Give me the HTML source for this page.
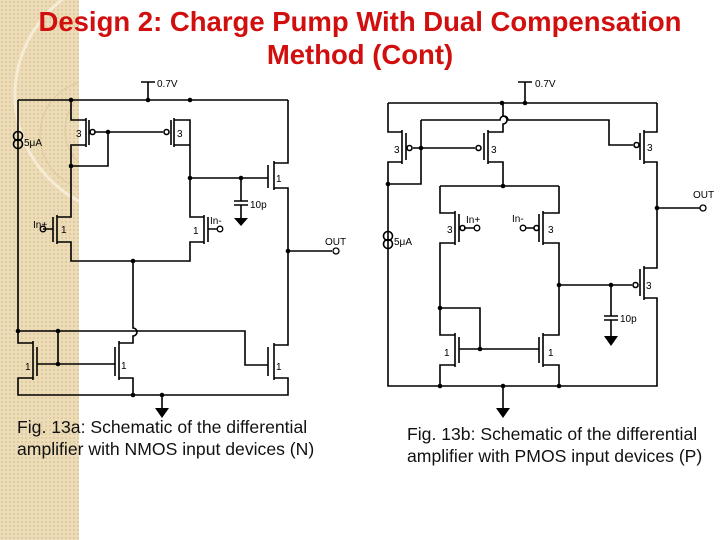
<!DOCTYPE html>
<html><head><meta charset="utf-8"><style>
html,body{margin:0;padding:0;background:#fff}
body{width:720px;height:540px;position:relative;overflow:hidden;font-family:"Liberation Sans",Arial,sans-serif}
.strip{position:absolute;left:0;top:0;width:79px;height:540px;background:#ecdcb8;
background-image:radial-gradient(#e0cba0 1px,transparent 1.2px);background-size:4px 4px}
.t{position:absolute;left:0;width:720px;text-align:center;color:#d10f0f;font-weight:bold;font-size:27.5px;line-height:33px;white-space:nowrap}
.cap{position:absolute;font-size:17.6px;line-height:22px;color:#111;white-space:nowrap}
svg{position:absolute;left:0;top:0}
</style></head><body>
<div class="strip"></div>
<svg width="720" height="540" style="z-index:0">
<circle cx="135" cy="95" r="120" fill="none" stroke="#f6ecd6" stroke-width="3"/>
<circle cx="95" cy="135" r="55" fill="none" stroke="#ddc9a0" stroke-width="1"/>
<circle cx="110" cy="130" r="45" fill="none" stroke="#ddc9a0" stroke-width="1"/>
<rect x="79" y="0" width="641" height="540" fill="#fff"/>
</svg>
<div class="t" style="top:5px">Design 2: Charge Pump With Dual Compensation</div>
<div class="t" style="top:38px">Method (Cont)</div>
<svg width="720" height="540" font-family="Liberation Sans, Arial, sans-serif" font-size="10">
<g stroke="#000" stroke-width="1.6" fill="none">
<path d="M141,82H155M148,82V100M18,100H288"/>
<path d="M18,100V331M71,100V120H86M86,145H71V217H57M57,242H71V261H190V242H204M204,217H190V120H174M174,145H190"/>
<path d="M86,118V147M89,120V145M174,118V147M171,120V145M95,132H163M108,132V166H71"/>
<path d="M288,100V163H274M274,188H288V345H274M274,378H288V395H18V378H33M33,343H18V331"/>
<path d="M274,161V190M268,165V188M190,178H268M241,178V201M234,201H248M234,205H248M241,205V218"/>
<path d="M57,215V244M53,217V242M43,229H53M204,215V244M208,217V242M208,229H217"/>
<path d="M133,261V328A4,4 0 0 1 133,336V343H119M119,378H133V395"/>
<path d="M18,331H245V365H268M274,343V380M268,347V376M119,341V380M115,347V376M33,341V380M37,347V376M37,364H115M58,331V364"/>
<path d="M288,251H332M162,395V408"/>
<circle cx="18" cy="136" r="4.5"/><circle cx="18" cy="144" r="4.5"/>
<circle cx="92.5" cy="132" r="2.5"/><circle cx="166.5" cy="132" r="2.5"/>
<circle cx="43" cy="229" r="2.8" stroke-width="1.3"/><circle cx="220" cy="229" r="2.8" stroke-width="1.3"/>
<circle cx="336" cy="251" r="3" stroke-width="1.3"/>
<path d="M518,82H532M525,82V103M388,103H657M421,120H500A4,4 0 0 1 508,120H609V145H633"/>
<path d="M388,103V132H402M402,162H388V386H657V298H644M644,268H657V162H644M644,132H657V103"/>
<path d="M503,103V116A4,4 0 0 1 503,124V132H488M488,162H503V186M440,186H559"/>
<path d="M402,130V164M406,133V160M488,130V164M484,133V160M644,130V164M640,133V160M644,266V300M640,269V296"/>
<path d="M413,148H475M421,120V184H388"/>
<path d="M440,186V213H455M455,243H440V335H455M455,365H440V386M559,186V213H543M543,243H559V335H543M543,365H559V386"/>
<path d="M455,211V245M459,214V242M543,211V245M539,214V242M464,228H474M534,228H526"/>
<path d="M455,333V367M459,337V363M543,333V367M539,337V363M459,349H539M440,308H480V349"/>
<path d="M559,285H632M611,285V316M604,316H618M604,320H618M611,320V336M657,208H700M503,386V408"/>
<circle cx="388" cy="236" r="4.5"/><circle cx="388" cy="244" r="4.5"/>
<circle cx="409.5" cy="148" r="2.5"/><circle cx="478.5" cy="148" r="2.5"/><circle cx="636.5" cy="145" r="2.5"/><circle cx="635.5" cy="285" r="2.5"/>
<circle cx="462.5" cy="228" r="2.5"/><circle cx="477" cy="228" r="2.8" stroke-width="1.3"/>
<circle cx="536.5" cy="228" r="2.5"/><circle cx="523" cy="228" r="2.8" stroke-width="1.3"/>
<circle cx="703" cy="208" r="3" stroke-width="1.3"/>
</g>
<g fill="#000">
<circle cx="71" cy="100" r="2.3"/><circle cx="148" cy="100" r="2.3"/><circle cx="190" cy="100" r="2.3"/>
<circle cx="108" cy="132" r="2.3"/><circle cx="71" cy="166" r="2.3"/><circle cx="190" cy="178" r="2.3"/><circle cx="241" cy="178" r="2.3"/>
<circle cx="133" cy="261" r="2.3"/><circle cx="288" cy="251" r="2.3"/><circle cx="18" cy="331" r="2.3"/><circle cx="58" cy="331" r="2.3"/><circle cx="58" cy="364" r="2.3"/>
<circle cx="133" cy="395" r="2.3"/><circle cx="162" cy="395" r="2.3"/>
<path d="M234,218H248L241,226Z"/><path d="M155,408H169L162,418Z"/>
<circle cx="502" cy="103" r="2.3"/><circle cx="525" cy="103" r="2.3"/><circle cx="421" cy="148" r="2.3"/><circle cx="388" cy="184" r="2.3"/><circle cx="503" cy="186" r="2.3"/>
<circle cx="657" cy="208" r="2.3"/><circle cx="559" cy="285" r="2.3"/><circle cx="611" cy="285" r="2.3"/><circle cx="440" cy="308" r="2.3"/><circle cx="480" cy="349" r="2.3"/>
<circle cx="440" cy="386" r="2.3"/><circle cx="503" cy="386" r="2.3"/><circle cx="559" cy="386" r="2.3"/>
<path d="M604,336H618L611,346Z"/><path d="M496,408H510L503,418Z"/>
<text x="157" y="87">0.7V</text><text x="24" y="146">5μA</text>
<text x="76" y="137">3</text><text x="177" y="137">3</text><text x="276" y="182">1</text>
<text x="250" y="208">10p</text><text x="33" y="228">In+</text><text x="61" y="233">1</text>
<text x="210" y="224">In-</text><text x="193" y="234">1</text><text x="325" y="245">OUT</text>
<text x="25" y="370">1</text><text x="121" y="369">1</text><text x="276" y="370">1</text>
<text x="535" y="87">0.7V</text><text x="394" y="245">5μA</text>
<text x="394" y="153">3</text><text x="491" y="153">3</text><text x="647" y="151">3</text>
<text x="466" y="223">In+</text><text x="512" y="222">In-</text><text x="447" y="233">3</text><text x="548" y="233">3</text>
<text x="693" y="198">OUT</text><text x="646" y="289">3</text><text x="620" y="322">10p</text>
<text x="444" y="356">1</text><text x="548" y="356">1</text>
</g>
</svg>
<div class="cap" style="left:17px;top:416px">Fig. 13a: Schematic of the differential<br>amplifier with NMOS input devices (N)</div>
<div class="cap" style="left:407px;top:423px">Fig. 13b: Schematic of the differential<br>amplifier with PMOS input devices (P)</div>
</body></html>
